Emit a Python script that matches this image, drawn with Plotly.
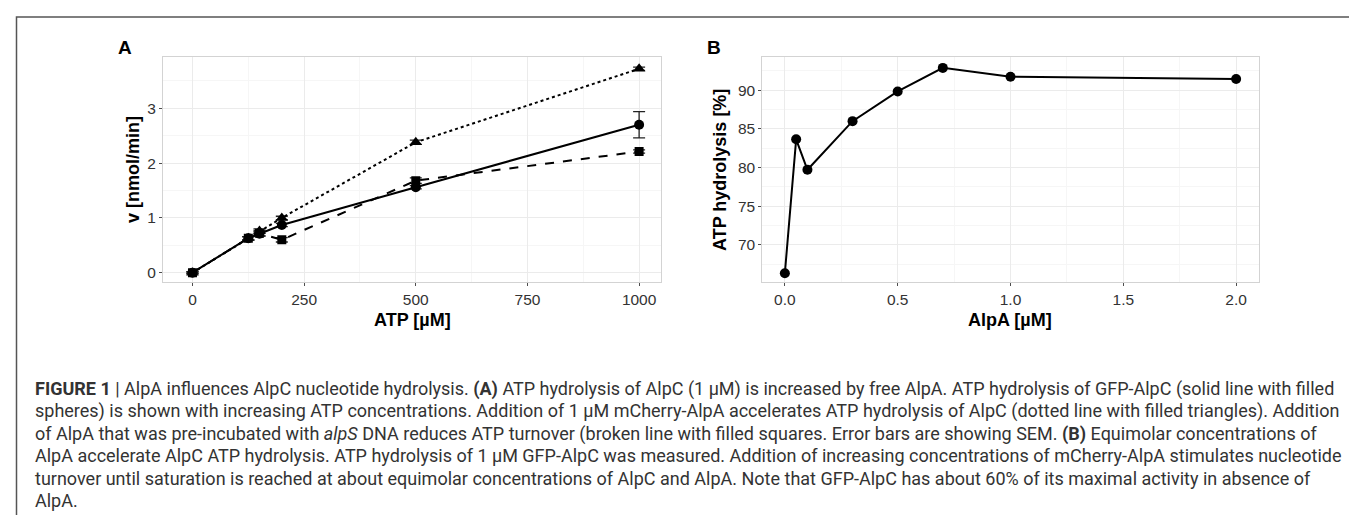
import plotly.graph_objects as go

# ---------------- data ----------------
atp_conc = [0, 125, 150, 200, 500, 1000]
v_gfp_alpc = [0.0, 0.63, 0.71, 0.87, 1.56, 2.70]          # solid, circles
v_gfp_alpc_err = [0.02, 0.03, 0.04, 0.03, 0.03, 0.24]
v_with_alpa = [0.0, 0.63, 0.76, 1.00, 2.38, 3.72]         # dotted, triangles
v_with_alpa_err = [0.01, 0.03, 0.04, 0.03, 0.04, 0.03]
v_alpa_dna = [0.0, 0.63, 0.72, 0.60, 1.68, 2.21]          # dashed, squares
v_alpa_dna_err = [0.02, 0.03, 0.05, 0.04, 0.05, 0.03]

alpa_conc = [0.0, 0.05, 0.1, 0.3, 0.5, 0.7, 1.0, 2.0]
atp_hydrolysis = [66.3, 83.65, 79.7, 86.0, 89.85, 92.9, 91.75, 91.45]

caption_lines = [
    "<b>FIGURE 1</b> | AlpA influences AlpC nucleotide hydrolysis. <b>(A)</b> ATP hydrolysis of AlpC (1 \u03bcM) is increased by free AlpA. ATP hydrolysis of GFP-AlpC (solid line with filled",
    "spheres) is shown with increasing ATP concentrations. Addition of 1 \u03bcM mCherry-AlpA accelerates ATP hydrolysis of AlpC (dotted line with filled triangles). Addition",
    "of AlpA that was pre-incubated with <i>alpS</i> DNA reduces ATP turnover (broken line with filled squares. Error bars are showing SEM. <b>(B)</b> Equimolar concentrations of",
    "AlpA accelerate AlpC ATP hydrolysis. ATP hydrolysis of 1 \u03bcM GFP-AlpC was measured. Addition of increasing concentrations of mCherry-AlpA stimulates nucleotide",
    "turnover until saturation is reached at about equimolar concentrations of AlpC and AlpA. Note that GFP-AlpC has about 60% of its maximal activity in absence of",
    "AlpA.",
]

W, H = 1357, 515
def px(x):
    return x / W
def py(y):
    return 1 - y / H

fig = go.Figure()

err_style = dict(type="data", color="#222222", thickness=1.3, width=6)

fig.add_trace(go.Scatter(
    x=atp_conc, y=v_with_alpa, mode="lines+markers",
    line=dict(color="black", width=2, dash="dot"),
    marker=dict(symbol="triangle-up", size=11, color="black"),
    error_y=dict(array=v_with_alpa_err, **err_style),
    xaxis="x", yaxis="y", showlegend=False))
fig.add_trace(go.Scatter(
    x=atp_conc, y=v_alpa_dna, mode="lines+markers",
    line=dict(color="black", width=2, dash="dash"),
    marker=dict(symbol="square", size=9, color="black"),
    error_y=dict(array=v_alpa_dna_err, **err_style),
    xaxis="x", yaxis="y", showlegend=False))
fig.add_trace(go.Scatter(
    x=atp_conc, y=v_gfp_alpc, mode="lines+markers",
    line=dict(color="black", width=2),
    marker=dict(symbol="circle", size=10, color="black"),
    error_y=dict(array=v_gfp_alpc_err, **err_style),
    xaxis="x", yaxis="y", showlegend=False))

fig.add_trace(go.Scatter(
    x=alpa_conc, y=atp_hydrolysis, mode="lines+markers",
    line=dict(color="black", width=2),
    marker=dict(symbol="circle", size=10, color="black"),
    xaxis="x2", yaxis="y2", showlegend=False))

tickfont = dict(family="Liberation Sans, Arial, sans-serif", size=15.5, color="#333333")
common = dict(
    showline=True, mirror=True, linecolor="#d3d3d3", linewidth=1,
    showgrid=True, gridcolor="#ebebeb", gridwidth=1,
    zeroline=False, ticks="outside", ticklen=3, tickcolor="#4d4d4d", tickwidth=1,
    tickfont=tickfont, automargin=False,
)

yA_dom = [py(274.3), py(49.3)]
fig.update_layout(
    width=W, height=H,
    margin=dict(l=0, r=0, t=0, b=0),
    paper_bgcolor="white", plot_bgcolor="white",
    xaxis=dict(domain=[px(155), px(653)], range=[-66, 1049], tickvals=[0, 250, 500, 750, 1000],
               minor=dict(tickvals=[125, 375, 625, 875], showgrid=True, gridcolor="#f6f6f6", ticks=""),
               anchor="y", **common),
    yaxis=dict(domain=yA_dom, range=[-0.175, 3.93], tickvals=[0, 1, 2, 3],
               minor=dict(tickvals=[0.5, 1.5, 2.5, 3.5], showgrid=True, gridcolor="#f6f6f6", ticks=""),
               anchor="x", **common),
    xaxis2=dict(domain=[px(754.3), px(1250.7)], range=[-0.1, 2.1], tickvals=[0, 0.5, 1.0, 1.5, 2.0],
                tickformat=".1f",
                minor=dict(tickvals=[0.25, 0.75, 1.25, 1.75], showgrid=True, gridcolor="#f6f6f6", ticks=""),
                anchor="y2", **common),
    yaxis2=dict(domain=yA_dom, range=[65.13, 94.27], tickvals=[70, 75, 80, 85, 90],
                minor=dict(tickvals=[67.5, 72.5, 77.5, 82.5, 87.5, 92.5], showgrid=True, gridcolor="#f6f6f6", ticks=""),
                anchor="x2", **common),
)

bold_font = dict(family="Liberation Sans, Arial, sans-serif", size=18, color="black")
label_font = dict(family="Liberation Sans, Arial, sans-serif", size=19, color="black")
annots = [
    dict(text="<b>A</b>", x=px(117), y=py(40), font=label_font),
    dict(text="<b>B</b>", x=px(706), y=py(40), font=label_font),
    dict(text="<b>v [nmol/min]</b>", x=px(125), y=py(162), textangle=-90, font=bold_font),
    dict(text="<b>ATP [\u00b5M]</b>", x=px(404), y=py(312), font=bold_font),
    dict(text="<b>ATP hydrolysis [%]</b>", x=px(712), y=py(162), textangle=-90, font=bold_font),
    dict(text="<b>AlpA [\u00b5M]</b>", x=px(1002), y=py(312), font=bold_font),
]
for a in annots:
    fig.add_annotation(xref="paper", yref="paper", showarrow=False,
                       xanchor="center", yanchor="middle", **a)

cap_font = dict(family="Liberation Sans Narrow, Roboto, Liberation Sans, sans-serif", size=18, color="#333333")
for i, line in enumerate(caption_lines):
    fig.add_annotation(xref="paper", yref="paper", showarrow=False,
                       x=px(25), y=py(381 + 22.3 * i), xanchor="left", yanchor="middle",
                       text=line, font=cap_font, align="left")

# outer figure frame (left, top, right)
fig.add_shape(type="path", xref="paper", yref="paper",
              path=f"M {px(8.5)},{py(520)} L {px(8.5)},{py(9)} L {px(1355.5)},{py(9)} L {px(1355.5)},{py(520)}",
              line=dict(color="#555555", width=1.5))

fig.write_html("out.html")
